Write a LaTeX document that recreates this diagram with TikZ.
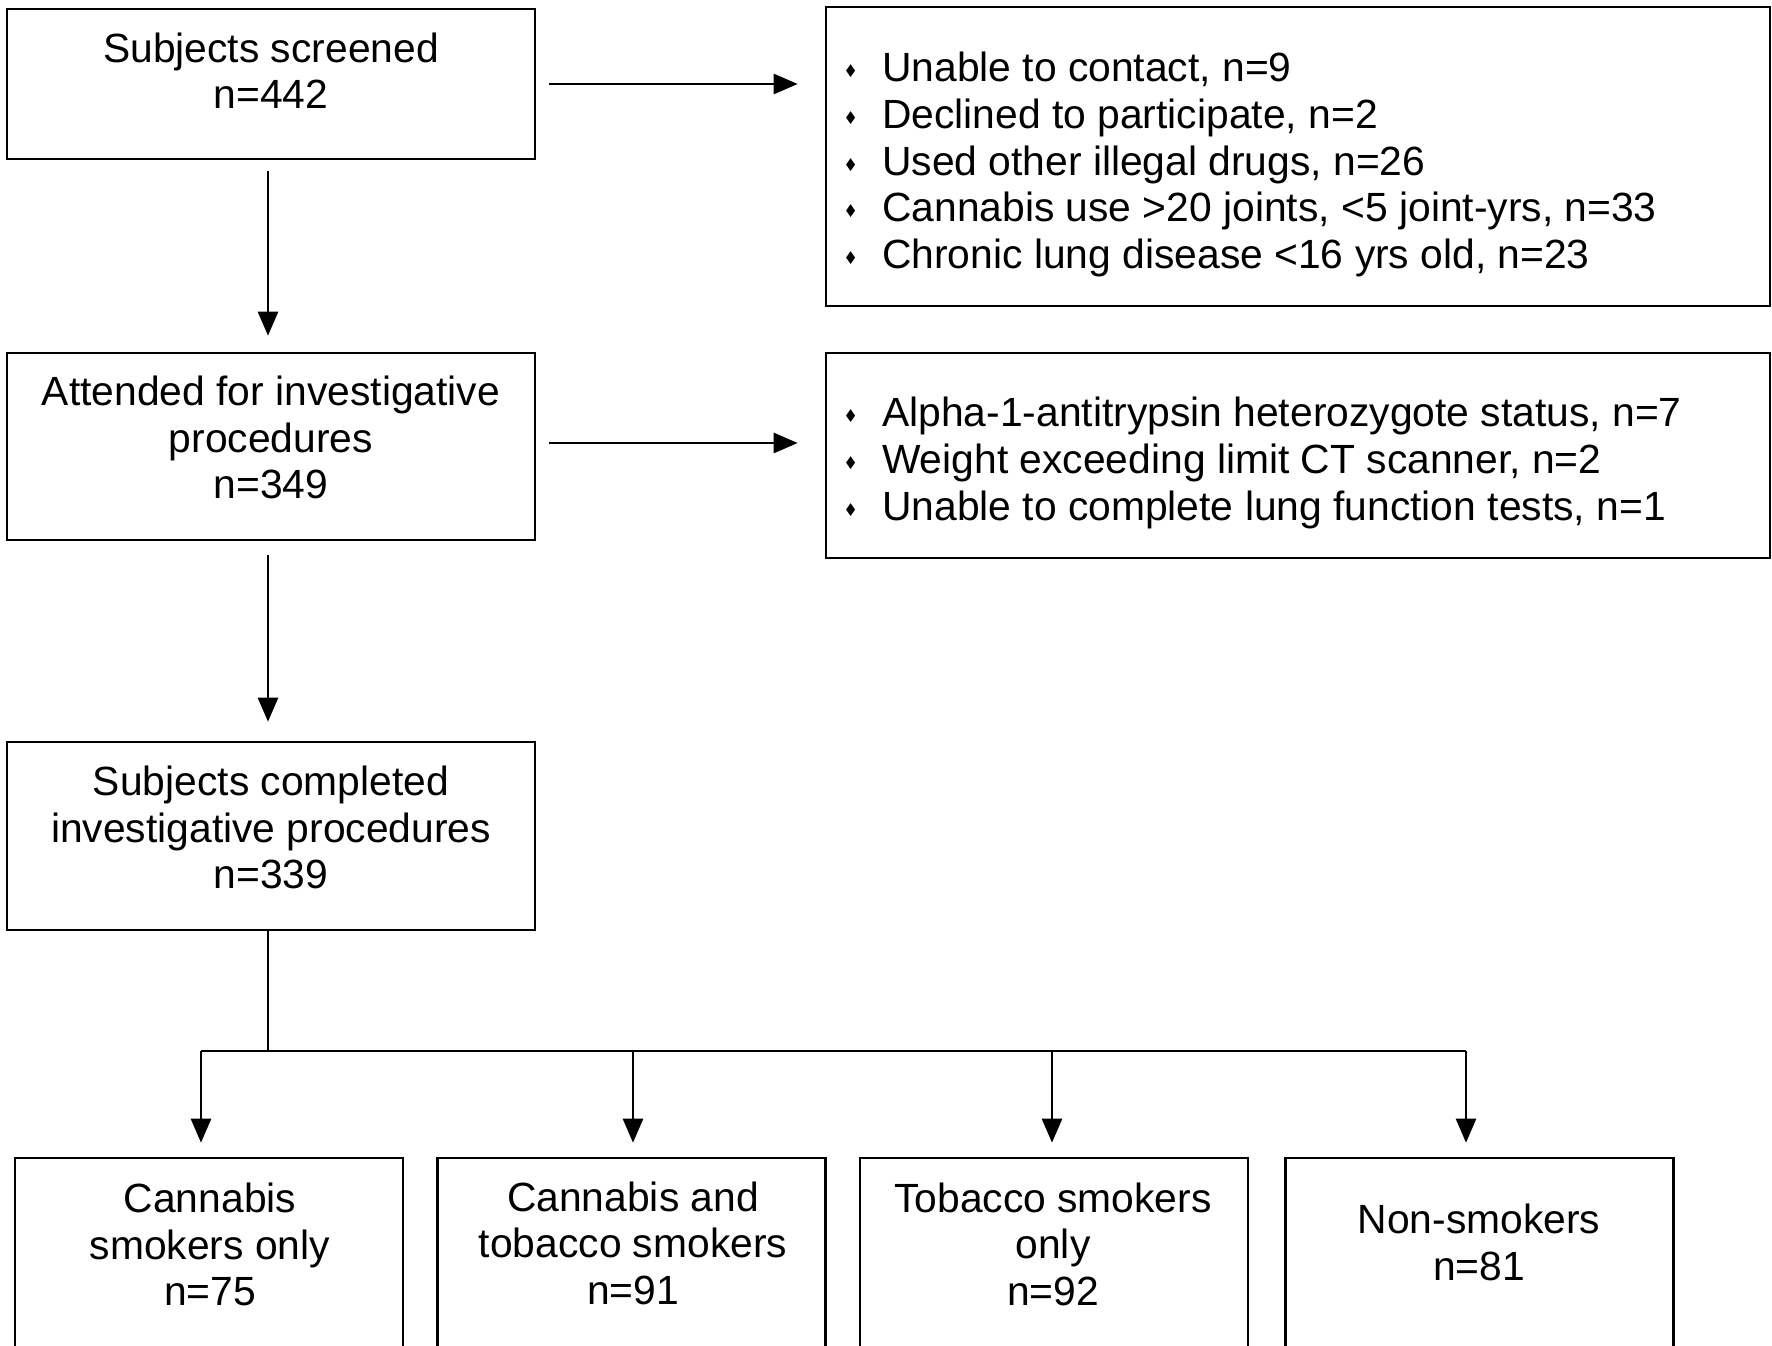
\documentclass[tikz,border=0pt]{standalone}
\usepackage{fontspec}
\setmainfont{Liberation Sans}
\newfontfamily\dejavu{DejaVu Sans}
\usetikzlibrary{arrows.meta}
\newcommand\mybul{\makebox[36pt][l]{\raisebox{6pt}{\scalebox{0.7}[1]{\dejavu\fontsize{17}{17}\selectfont ◆}}}}
\begin{document}
\begin{tikzpicture}[x=1pt,y=-1pt,
  box/.style={draw, line width=2.6pt, inner sep=0pt},
  txt/.style={align=center, inner sep=0pt, font=\fontsize{40.8}{46.5}\selectfont},
  lst/.style={align=left, inner sep=0pt, anchor=west, font=\fontsize{40.8}{46.7}\selectfont},
  arr/.style={-{Triangle[length=24pt,width=20pt]}, line width=2.6pt},
  ln/.style={line width=2.6pt}]
\clip (0,0) rectangle (1772,1346);
\fill[white] (0,0) rectangle (1772,1346);
% main boxes
\node[box, minimum width=528pt, minimum height=150pt] (b1) at (271,84) {};
\node[box, minimum width=528pt, minimum height=187pt] (b2) at (271,446.5) {};
\node[box, minimum width=528pt, minimum height=188pt] (b3) at (271,836) {};
\node[box, minimum width=944pt, minimum height=299pt] (r1) at (1298,156.5) {};
\node[box, minimum width=944pt, minimum height=205pt] (r2) at (1298,455.5) {};
% bottom boxes (cut off at bottom edge)
\node[box, minimum width=388pt, minimum height=242pt] (g1) at (209,1279) {};
\node[box, minimum width=388pt, minimum height=242pt] (g2) at (631.5,1279) {};
\node[box, minimum width=388pt, minimum height=242pt] (g3) at (1054,1279) {};
\node[box, minimum width=388pt, minimum height=242pt] (g4) at (1479.5,1279) {};
% texts
\node[txt] (t1) at (271,70.5) {Subjects screened\\n=442};
\node[txt] (t2) at (271,437.5) {Attended for investigative\\procedures\\n=349};
\node[txt] (t3) at (271,827.5) {Subjects completed\\investigative procedures\\n=339};
\node[txt] (tg1) at (210,1244.5) {Cannabis\\smokers only\\n=75};
\node[txt] (tg2) at (633,1243) {Cannabis and\\tobacco smokers\\n=91};
\node[txt] (tg3) at (1053,1244) {Tobacco smokers\\only\\n=92};
\node[txt] (tg4) at (1479,1242.5) {Non-smokers\\n=81};
\node[lst] (l1) at (846,164.5) {\mybul Unable to contact, n=9\\
\mybul Declined to participate, n=2\\
\mybul Used other illegal drugs, n=26\\
\mybul Cannabis use >20 joints, <5 joint-yrs, n=33\\
\mybul Chronic lung disease <16 yrs old, n=23};
\node[lst] (l2) at (846,463) {\mybul Alpha-1-antitrypsin heterozygote status, n=7\\
\mybul Weight exceeding limit CT scanner, n=2\\
\mybul Unable to complete lung function tests, n=1};
% connectors
\draw[arr, shorten <=13pt, shorten >=27pt] (b1.east) -- (b1.east -| r1.west);
\draw[arr, shorten <=13pt, shorten >=27pt] ([yshift=3.5pt]b2.east) -- ([yshift=3.5pt]b2.east -| r2.west);
\draw[arr, shorten <=11pt, shorten >=16pt] ([xshift=-3pt]b1.south) -- ([xshift=-3pt]b2.north);
\draw[arr, shorten <=14pt, shorten >=19pt] ([xshift=-3pt]b2.south) -- ([xshift=-3pt]b3.north);
\coordinate (hm) at (268,1051);
\coordinate (h1) at (201,1051);
\coordinate (h2) at (633,1051);
\coordinate (h3) at (1052,1051);
\coordinate (h4) at (1466,1051);
\draw[ln] ([xshift=-3pt]b3.south) -- (hm);
\draw[ln] (h1) -- (h4);
\draw[arr, shorten >=14pt] (h1) -- (h1 |- g1.north);
\draw[arr, shorten >=14pt] (h2) -- (h2 |- g2.north);
\draw[arr, shorten >=14pt] (h3) -- (h3 |- g3.north);
\draw[arr, shorten >=14pt] (h4) -- (h4 |- g4.north);
\end{tikzpicture}
\end{document}
